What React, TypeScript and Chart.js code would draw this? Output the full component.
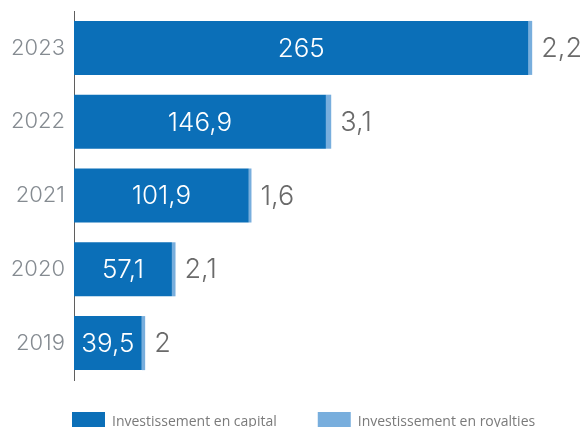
import React, { useEffect, useRef } from "react";
import { Chart, registerables } from "chart.js";

Chart.register(...registerables);

const years = ["2023", "2022", "2021", "2020", "2019"];
const capital = [265, 146.9, 101.9, 57.1, 39.5];
const royalties = [2.2, 3.1, 1.6, 2.1, 2];
const seriesNames = ["Investissement en capital", "Investissement en royalties"];

const fmt = (v: number) => String(v).replace(".", ",");

const valueLabels = {
  id: "valueLabels",
  afterDatasetsDraw(chart: any) {
    const ctx = chart.ctx;
    ctx.save();
    ctx.textBaseline = "middle";
    const m0 = chart.getDatasetMeta(0);
    const m1 = chart.getDatasetMeta(1);
    m0.data.forEach((bar: any, i: number) => {
      const { x, y, base } = bar.getProps(["x", "y", "base"], true);
      ctx.font = "300 26px Inter";
      ctx.fillStyle = "#ffffff";
      ctx.textAlign = "center";
      ctx.fillText(fmt(capital[i]), (x + base) / 2, y + 1);
    });
    m1.data.forEach((bar: any, i: number) => {
      const { x, y } = bar.getProps(["x", "y"], true);
      ctx.font = "300 27px Inter";
      ctx.fillStyle = "#6a6a6a";
      ctx.textAlign = "left";
      ctx.fillText(fmt(royalties[i]), x + 9, y + 1);
    });
    ctx.restore();
  },
};

const legendOffset = {
  id: "legendOffset",
  afterLayout(chart: any) {
    const l = chart.legend;
    if (l) {
      l.top -= 9;
      l.bottom -= 9;
      l.left += 31;
      l.right += 31;
    }
  },
};

export default function App() {
  const ref = useRef<HTMLCanvasElement | null>(null);
  useEffect(() => {
    if (!ref.current) return;
    const chart = new Chart(ref.current, {
      type: "bar",
      data: {
        labels: years,
        datasets: [
          {
            label: seriesNames[0],
            data: capital,
            backgroundColor: "#0b6fb8",
            borderWidth: 0,
            categoryPercentage: 1,
            barPercentage: 0.732,
          },
          {
            label: seriesNames[1],
            data: royalties,
            backgroundColor: "#78aedd",
            borderWidth: 0,
            categoryPercentage: 1,
            barPercentage: 0.732,
          },
        ],
      },
      options: {
        indexAxis: "y",
        responsive: false,
        animation: false,
        layout: { padding: { top: 11, left: 0, right: 0, bottom: 0 } },
        scales: {
          x: { stacked: true, display: false, min: 0, max: 298 },
          y: {
            stacked: true,
            grid: { display: false, drawTicks: false },
            border: { display: true, color: "#5f5f5f", width: 1 },
            ticks: {
              color: "#858b91",
              font: { family: "Inter", size: 22, weight: "300" },
              padding: 9,
            },
            afterFit: (s: any) => {
              s.width = 74;
              s.paddingTop = 0;
              s.paddingBottom = 0;
            },
          },
        },
        plugins: {
          legend: {
            position: "bottom",
            align: "start",
            labels: {
              boxWidth: 33,
              boxHeight: 20,
              padding: 41,
              color: "#7a7a7a",
              font: { family: "Open Sans", size: 14 },
            },
          },
          tooltip: { enabled: false },
        },
      },
      plugins: [valueLabels, legendOffset],
    });
    return () => chart.destroy();
  }, []);
  return (
    <div
      style={{
        position: "absolute",
        left: 0,
        top: 0,
        width: 585,
        height: 427,
        overflow: "hidden",
        background: "#ffffff",
      }}
    >
      <canvas ref={ref} width={585} height={451} style={{ display: "block" }} />
    </div>
  );
}
